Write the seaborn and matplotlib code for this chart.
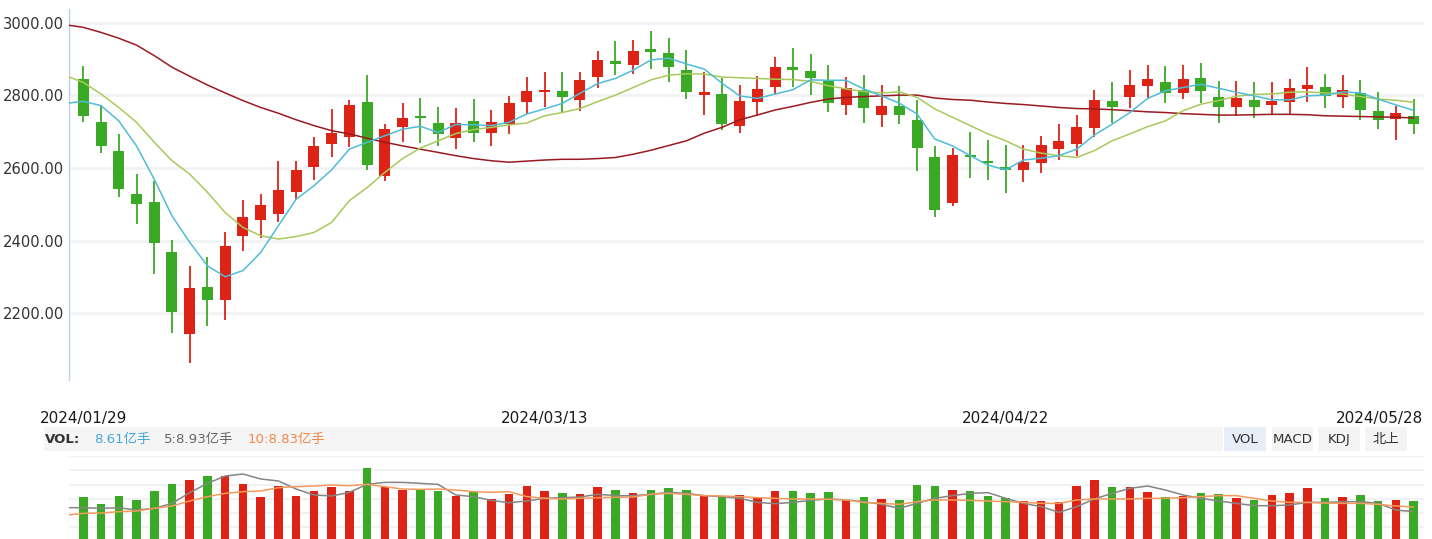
import numpy as np
import pandas as pd
import matplotlib
matplotlib.use('Agg')
import matplotlib.pyplot as plt
import matplotlib.transforms as mtransforms
from matplotlib.patches import Rectangle
import seaborn as sns

# ---------------- data ----------------
opens = [2845, 2727, 2647, 2528, 2506, 2368, 2143, 2271, 2236, 2413,
         2457, 2474, 2534, 2603, 2667, 2686, 2782, 2579, 2714, 2741,
         2724, 2684, 2730, 2697, 2721, 2783, 2810, 2812, 2788, 2852,
         2895, 2885, 2928, 2917, 2870, 2802, 2804, 2717, 2783, 2824,
         2879, 2868, 2840, 2775, 2815, 2747, 2771, 2732, 2630, 2504,
         2634, 2618, 2602, 2595, 2615, 2653, 2667, 2711, 2785, 2797,
         2827, 2837, 2808, 2848, 2796, 2769, 2787, 2775, 2783, 2819,
         2823, 2797, 2807, 2757, 2736, 2743]
highs = [2881, 2774, 2694, 2583, 2564, 2401, 2329, 2354, 2423, 2511,
         2528, 2619, 2619, 2685, 2763, 2787, 2856, 2721, 2779, 2793,
         2768, 2765, 2790, 2760, 2799, 2851, 2865, 2865, 2865, 2923,
         2950, 2953, 2978, 2959, 2925, 2865, 2849, 2829, 2854, 2906,
         2931, 2914, 2884, 2851, 2856, 2829, 2826, 2787, 2661, 2655,
         2699, 2677, 2663, 2663, 2688, 2721, 2746, 2815, 2837, 2870,
         2884, 2881, 2884, 2890, 2840, 2840, 2837, 2837, 2845, 2879,
         2859, 2856, 2843, 2810, 2771, 2790]
lows = [2728, 2642, 2521, 2446, 2308, 2145, 2063, 2165, 2181, 2372,
        2407, 2452, 2512, 2567, 2631, 2659, 2595, 2565, 2672, 2670,
        2661, 2653, 2672, 2661, 2695, 2749, 2768, 2753, 2758, 2822,
        2857, 2860, 2874, 2838, 2791, 2747, 2706, 2697, 2744, 2804,
        2823, 2802, 2755, 2747, 2725, 2714, 2722, 2592, 2465, 2496,
        2573, 2568, 2532, 2562, 2587, 2623, 2634, 2686, 2725, 2766,
        2791, 2780, 2791, 2780, 2725, 2744, 2739, 2747, 2747, 2783,
        2766, 2766, 2733, 2708, 2678, 2695]
closes = [2744, 2661, 2543, 2501, 2394, 2203, 2269, 2236, 2385, 2465,
          2498, 2539, 2594, 2660, 2696, 2774, 2609, 2707, 2738, 2739,
          2695, 2724, 2697, 2727, 2779, 2812, 2813, 2797, 2843, 2898,
          2888, 2923, 2921, 2879, 2810, 2810, 2722, 2785, 2818, 2879,
          2871, 2849, 2780, 2820, 2766, 2771, 2747, 2656, 2485, 2636,
          2630, 2613, 2595, 2616, 2663, 2674, 2713, 2787, 2769, 2829,
          2845, 2808, 2845, 2813, 2769, 2793, 2769, 2785, 2821, 2829,
          2799, 2815, 2761, 2733, 2752, 2722]

# moving-average lines (first value = the day before the window)
ma5 = [2778, 2784, 2772, 2730, 2661, 2569, 2468, 2395, 2330, 2300, 2317,
       2367, 2441, 2514, 2551, 2595, 2652, 2671, 2689, 2707, 2715,
       2698, 2720, 2719, 2717, 2726, 2749, 2763, 2778, 2806, 2833,
       2847, 2870, 2898, 2903, 2887, 2873, 2834, 2799, 2792, 2804,
       2816, 2843, 2842, 2842, 2818, 2799, 2779, 2749, 2680, 2661,
       2634, 2608, 2595, 2622, 2627, 2634, 2652, 2691, 2721, 2753,
       2792, 2813, 2822, 2831, 2820, 2809, 2799, 2788, 2788, 2799,
       2801, 2810, 2807, 2790, 2774, 2759]
ma10 = [2855, 2836, 2804, 2767, 2726, 2671, 2620, 2583, 2533, 2477, 2436,
        2413, 2404, 2411, 2422, 2450, 2510, 2546, 2588, 2626, 2655,
        2675, 2695, 2706, 2712, 2719, 2724, 2744, 2753, 2764, 2783,
        2801, 2822, 2843, 2856, 2860, 2859, 2851, 2849, 2847, 2845,
        2844, 2839, 2827, 2818, 2811, 2807, 2810, 2795, 2763, 2740,
        2717, 2694, 2675, 2652, 2641, 2634, 2629, 2648, 2675, 2694,
        2714, 2730, 2758, 2776, 2786, 2798, 2803, 2804, 2809, 2810,
        2807, 2804, 2797, 2790, 2787, 2781]
ma_long = [2995, 2988, 2974, 2958, 2939, 2910, 2878, 2853, 2829, 2807, 2786,
           2767, 2751, 2733, 2717, 2703, 2694, 2682, 2671, 2661, 2652,
           2643, 2634, 2626, 2620, 2616, 2619, 2622, 2624, 2624, 2626,
           2629, 2638, 2649, 2662, 2675, 2696, 2712, 2733, 2746, 2760,
           2770, 2781, 2790, 2795, 2797, 2799, 2801, 2801, 2793, 2789,
           2787, 2782, 2778, 2775, 2771, 2767, 2764, 2763, 2761, 2758,
           2755, 2753, 2750, 2748, 2746, 2746, 2747, 2748, 2748, 2747,
           2744, 2743, 2742, 2741, 2740, 2738]

volumes = [9.43, 7.89, 9.58, 8.74, 10.63, 12.10, 12.95, 13.79, 13.79, 12.10,
           9.37, 11.68, 9.58, 10.63, 11.47, 10.63, 15.47, 11.47, 10.84, 10.84,
           10.63, 9.58, 10.42, 8.95, 10.00, 11.68, 10.63, 10.21, 10.00, 11.47,
           10.84, 10.21, 10.84, 11.26, 10.84, 9.79, 9.58, 9.79, 9.37, 10.63,
           10.63, 10.21, 10.42, 8.74, 9.37, 8.95, 8.74, 11.89, 11.68, 10.84,
           10.63, 9.58, 9.16, 8.53, 8.53, 8.31, 11.68, 12.95, 11.47, 11.47,
           10.42, 9.37, 9.58, 10.21, 10.00, 9.16, 8.74, 9.79, 10.21, 11.26,
           9.16, 9.37, 9.79, 8.53, 8.74, 8.53]
vol_ma5 = [7.12, 7.12, 6.98, 7.12, 6.63, 6.98, 8.03, 10.28, 12.24, 13.79, 14.21,
           13.16, 12.74, 11.05, 9.79, 9.58, 10.35, 12.03, 12.45, 12.45, 12.24,
           12.03, 9.79, 9.44, 8.66, 8.17, 8.53, 9.09, 9.23, 9.37, 9.93,
           9.65, 9.65, 9.93, 10.35, 10.14, 9.65,
           9.44, 9.09, 8.24, 7.96, 8.24, 8.66, 8.95, 8.74, 8.38, 7.82,
           6.98, 8.03, 9.09, 9.65, 10.14, 10.28, 9.09, 8.03, 7.33, 6.14,
           7.33, 8.95, 10.14, 11.19, 11.68, 10.84, 9.79, 9.09, 8.53, 8.03,
           7.54, 7.54, 7.68, 8.24, 8.24, 8.38, 8.38, 8.03, 6.63, 6.28]
vol_ma10 = [5.51, 5.93, 6.00, 6.28, 6.42, 6.98, 7.47, 8.53, 9.44, 10.14, 10.49,
            10.63, 11.33, 11.54, 11.68, 11.89, 11.75, 12.03, 11.54, 11.05, 10.98,
            11.05, 10.84, 10.49, 10.35, 10.49, 9.44, 9.09, 8.95, 9.09, 9.23,
            9.30, 9.37, 9.93, 10.14, 9.93, 9.65,
            9.58, 9.44, 9.23, 9.09, 8.95, 8.95, 8.88, 8.74, 8.24, 8.03,
            7.82, 8.38, 8.74, 8.74, 8.66, 8.53, 8.38, 8.24, 8.03, 8.03,
            8.74, 8.95, 8.95, 8.95, 9.09, 9.09, 9.23, 9.44, 9.65, 9.65,
            9.09, 8.53, 8.24, 8.24, 8.10, 8.03, 8.03, 7.82, 7.47, 7.26]

date_tick_index = [0, 26, 52, 75]
date_labels = ['2024/01/29', '2024/03/13', '2024/04/22', '2024/05/28']
price_ticks = [2200, 2400, 2600, 2800, 3000]
vol_grid = [3, 6, 9, 12, 15, 18]

header_vol = '8.61亿手'
header_ma5 = '5:8.93亿手'
header_ma10 = '10:8.83亿手'
buttons = ['VOL', 'MACD', 'KDJ', '北上']

# ---------------- style ----------------
sns.set_theme(style='white')
plt.rcParams['font.family'] = ['DejaVu Sans', 'Noto Sans CJK SC']

UP = '#dd2316'
DOWN = '#3aa925'
C_MA5 = '#4fbcd8'
C_MA10 = '#a8ca5c'
C_MAL = '#9a1a22'
C_VMA5 = '#858585'
C_VMA10 = '#f29b5c'
GRID = '#f1f2f4'

W, H = 1432, 539
fig = plt.figure(figsize=(W / 100, H / 100), dpi=100)
fig.patch.set_facecolor('white')

n = len(closes)
idx = np.arange(n)
ma_idx = np.arange(-1, n)
df = pd.DataFrame({'i': idx, 'open': opens, 'high': highs, 'low': lows,
                   'close': closes, 'vol': volumes})
df['up'] = df['close'] >= df['open']
df['color'] = np.where(df['up'], UP, DOWN)

ma_df = pd.DataFrame({'i': ma_idx, 'ma5': ma5, 'ma10': ma10, 'mal': ma_long,
                      'vma5': vol_ma5, 'vma10': vol_ma10})

left_px, right_px = 68.5, 1424
x0 = -0.834
x1 = 75.58

# ---------------- main price panel ----------------
ax = fig.add_axes([left_px / W, 1 - 380 / H, (right_px - left_px) / W, 371 / H])
ax.set_facecolor('white')

body_min = 6
bottoms, heights = [], []
for o, c in zip(opens, closes):
    h = abs(c - o)
    if h < body_min:
        bottoms.append((o + c) / 2 - body_min / 2)
        heights.append(body_min)
    else:
        bottoms.append(min(o, c))
        heights.append(h)

ax.vlines(idx, lows, highs, colors=df['color'], linewidth=1.3, zorder=2)
ax.bar(idx, heights, bottom=bottoms, width=0.62, color=df['color'],
       linewidth=0, zorder=3)

sns.lineplot(data=ma_df, x='i', y='mal', ax=ax, color=C_MAL, linewidth=1.1,
             estimator=None, sort=False, zorder=4)
sns.lineplot(data=ma_df, x='i', y='ma10', ax=ax, color=C_MA10, linewidth=1.1,
             estimator=None, sort=False, zorder=4)
sns.lineplot(data=ma_df, x='i', y='ma5', ax=ax, color=C_MA5, linewidth=1.1,
             estimator=None, sort=False, zorder=5)

ax.set_xlim(x0, x1)
ax.set_ylim(2015.2, 3038.6)
ax.set_xlabel('')
ax.set_ylabel('')
ax.set_yticks(price_ticks)
ax.set_yticklabels([f'{v:.2f}' for v in price_ticks], fontsize=10.6, color='#333333')
ax.grid(False)
ax.yaxis.grid(True, color=GRID, linewidth=2.0, zorder=0)
ax.set_axisbelow(True)
for s in ['top', 'right', 'bottom']:
    ax.spines[s].set_visible(False)
ax.spines['left'].set_color('#bcd0ea')
ax.spines['left'].set_linewidth(1.0)
ax.tick_params(axis='y', length=0, pad=3.5)
ax.set_xticks(date_tick_index)
ax.set_xticklabels(date_labels, fontsize=11, color='#1a1a1a')
ax.tick_params(axis='x', length=0, pad=22.5)
last = ax.get_xticklabels()[-1]
last.set_ha('right')
last.set_transform(last.get_transform() +
                   mtransforms.ScaledTranslation(9.5 / 100, 0, fig.dpi_scale_trans))

# ---------------- volume panel ----------------
axv = fig.add_axes([left_px / W, -2.5 / H, (right_px - left_px) / W, 85.5 / H])
axv.set_facecolor('none')
axv.bar(idx, volumes, width=0.48, color=df['color'], linewidth=0, zorder=3)
sns.lineplot(data=ma_df, x='i', y='vma5', ax=axv, color=C_VMA5, linewidth=1.1,
             estimator=None, sort=False, zorder=4)
sns.lineplot(data=ma_df, x='i', y='vma10', ax=axv, color=C_VMA10, linewidth=1.1,
             estimator=None, sort=False, zorder=4)
axv.set_xlim(x0, x1)
axv.set_ylim(0, 18)
axv.set_yticks(vol_grid)
axv.set_yticklabels([])
axv.set_xticks([])
axv.set_xlabel('')
axv.set_ylabel('')
axv.grid(False)
axv.yaxis.grid(True, color=GRID, linewidth=1.5, zorder=0)
axv.set_axisbelow(True)
axv.tick_params(length=0)
for s in axv.spines.values():
    s.set_visible(False)

# ---------------- header strip ----------------
ov = fig.add_axes([0, 0, 1, 1])
ov.set_xlim(0, W)
ov.set_ylim(H, 0)
ov.axis('off')
ov.patch.set_alpha(0)
ov.add_patch(Rectangle((43.5, 427), 1222.6 - 43.5, 24, facecolor='#f5f5f5',
                       edgecolor='none'))
btn_x = [1224.4, 1271.6, 1318.4, 1365.0]
btn_w = 41.8
for k, (bx, lab) in enumerate(zip(btn_x, buttons)):
    fc = '#e7eef8' if k == 0 else '#f4f4f4'
    ov.add_patch(Rectangle((bx, 427), btn_w, 24, facecolor=fc, edgecolor='none'))
    ov.text(bx + btn_w / 2, 439.5, lab, ha='center', va='center', fontsize=9.6,
            color='#333333')

ov.text(44.5, 439.5, 'VOL:', ha='left', va='center', fontsize=9.6,
        fontweight='bold', color='#333333')
ov.text(94, 439.5, header_vol, ha='left', va='center', fontsize=9.6, color='#45a7dc')
ov.text(164, 439.5, header_ma5, ha='left', va='center', fontsize=9.6, color='#666666')
ov.text(247.7, 439.5, header_ma10, ha='left', va='center', fontsize=9.6, color='#f0884a')

fig.savefig('out.png', dpi=100, facecolor='white')
